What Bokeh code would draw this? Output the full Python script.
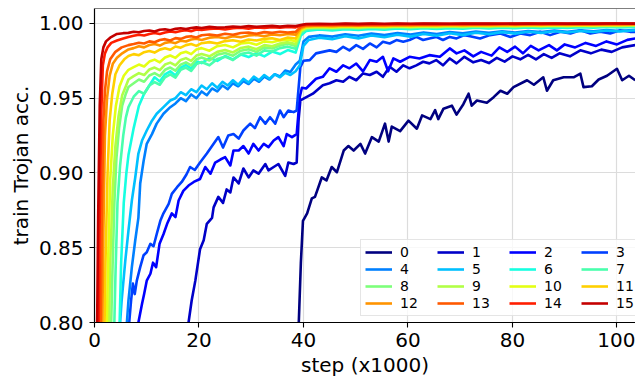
from bokeh.plotting import figure
from bokeh.models import Range1d, FixedTicker, PrintfTickFormatter, Legend, LegendItem, Span
from bokeh.embed import file_html
from bokeh.resources import INLINE

# ---------------------------------------------------------------- data
LABELS = [str(i) for i in range(16)]
X_TICKS = [0, 20, 40, 60, 80, 100]
Y_TICKS = [0.80, 0.85, 0.90, 0.95, 1.00]

# shared sample positions for the fast-learning runs (6..15)
HEAD_X = [6.5, 7.5, 8.5, 9.5, 10.5, 11.5, 12.5, 13.5, 14.5, 15.5, 16.5, 17.5, 18.5, 19.5,
          20.5, 22.0, 23.5, 25.0, 26.5, 28.0, 29.5, 31.0, 32.5, 34.0, 35.5, 37.0, 38.5]
TAIL_X = [39.5, 40.5, 43.0, 45.5, 48.0, 50.5, 53.0, 55.5, 58.0, 60.5, 63.0, 65.5, 68.0, 70.5,
          73.0, 75.5, 78.0, 80.5, 83.0, 85.5, 88.0, 90.5, 93.0, 95.5, 98.0, 100.5, 103.5]
# shared sample positions for runs 4 and 5
MID_X = [15.5, 16.5, 17.5, 18.5, 19.5, 20.5, 21.5, 22.5, 23.5, 24.5, 25.5, 26.5,
         27.5, 28.5, 29.5, 30.5, 31.5, 32.5, 33.5, 34.5, 35.5, 36.5, 37.5, 38.5]
JUMP45_X = [39.3, 40.0, 41.0]

# run 0
X0 = [38.9, 39.5, 39.9, 40.7, 41.6, 42.2, 43.5, 44.4, 45.4, 46.4, 47.7, 48.6, 49.6, 50.9,
      51.8, 53.1, 54.4, 55.6, 56.3, 56.9, 58.5, 60.1, 61.7, 62.7, 64.3, 65.2, 65.8, 66.8,
      68.4, 69.3, 70.6, 71.6, 72.2, 73.2, 75.1, 76.4, 77.7, 79.0, 80.2, 82.8, 84.1, 85.9,
      86.6, 87.8, 89.8, 91.7, 93.0, 93.6, 95.2, 96.5, 98.1, 100.0, 101.0, 102.3, 103.5]
Y0 = [0.780, 0.840, 0.868, 0.873, 0.883, 0.884, 0.897, 0.895, 0.904, 0.9005, 0.915, 0.918,
      0.915, 0.9195, 0.913, 0.924, 0.921, 0.933, 0.921, 0.931, 0.928, 0.935, 0.9296, 0.9385,
      0.936, 0.942, 0.936, 0.943, 0.945, 0.939, 0.946, 0.953, 0.945, 0.9485, 0.947, 0.9507,
      0.955, 0.953, 0.9574, 0.962, 0.959, 0.964, 0.955, 0.962, 0.964, 0.964, 0.9664, 0.9574,
      0.958, 0.9625, 0.965, 0.9697, 0.962, 0.965, 0.962]

# run 1
X1 = [17.8, 18.0, 18.6, 19.3, 20.2, 20.9, 21.5, 22.5, 22.8, 23.7, 24.6, 25.3, 26.0, 26.6,
      27.6, 28.5, 29.5, 30.4, 31.4, 32.7, 33.3, 34.3, 35.2, 36.5, 37.1, 38.1, 38.7, 39.05,
      39.4, 40.2, 41.8, 43.7, 45.0, 46.3, 47.6, 48.8, 50.1, 51.4, 52.7, 54.0, 55.2, 56.5,
      57.8, 59.1, 60.3, 61.6, 62.9, 64.1, 65.4, 66.7, 68.0, 69.3, 70.8, 72.5, 74.0, 75.5,
      77.0, 78.5, 80.0, 81.5, 83.0, 84.5, 86.0, 87.5, 89.0, 91.0, 93.0, 95.0, 97.0, 99.0,
      101.0, 103.5]
Y1 = [0.790, 0.800, 0.8147, 0.828, 0.849, 0.855, 0.866, 0.870, 0.877, 0.884, 0.880, 0.889,
      0.887, 0.897, 0.893, 0.903, 0.897, 0.9017, 0.8995, 0.906, 0.9017, 0.904, 0.906, 0.898,
      0.907, 0.906, 0.907, 0.935, 0.9485, 0.950, 0.953, 0.9587, 0.960, 0.962, 0.961, 0.9643,
      0.962, 0.9666, 0.9655, 0.9677, 0.9643, 0.971, 0.9677, 0.972, 0.970, 0.972, 0.9744,
      0.9733, 0.9755, 0.972, 0.9766, 0.9733, 0.9777, 0.974, 0.9755, 0.9735, 0.977, 0.9745,
      0.978, 0.976, 0.979, 0.976, 0.9795, 0.977, 0.980, 0.978, 0.982, 0.980, 0.9825, 0.981,
      0.984, 0.9855]

# run 2
X2 = [8.2, 8.4, 9.1, 9.5, 10.0, 10.7, 11.2, 11.8, 12.45, 13.2, 13.9, 14.8, 15.5, 16.1,
      17.0, 18.0, 19.0, 20.2, 21.2, 22.2, 23.1, 24.1, 25.0, 26.0, 26.6, 27.6, 28.5, 29.5,
      30.4, 31.4, 32.4, 33.3, 34.3, 35.2, 36.2, 36.8, 37.8, 38.7, 39.3, 39.7, 40.5, 42.4,
      43.7, 45.0, 46.3, 47.6, 48.8, 50.1, 51.4, 52.7, 54.0, 55.2, 56.2, 57.2, 58.5, 60.3,
      62.2, 64.1, 66.1, 68.0, 69.3, 70.8, 72.5, 74.0, 76.0, 77.5, 79.0, 80.5, 82.0, 83.5,
      85.0, 87.0, 88.5, 90.0, 92.0, 94.0, 96.0, 98.0, 100.0, 102.0, 103.5]
Y2 = [0.790, 0.800, 0.8125, 0.819, 0.828, 0.8326, 0.840, 0.837, 0.8526, 0.859, 0.866, 0.873,
      0.8705, 0.8816, 0.888, 0.8916, 0.894, 0.896, 0.904, 0.8995, 0.907, 0.909, 0.9106, 0.905,
      0.915, 0.915, 0.918, 0.913, 0.9195, 0.915, 0.9195, 0.9173, 0.9217, 0.924, 0.918, 0.926,
      0.924, 0.926, 0.951, 0.957, 0.9565, 0.963, 0.9643, 0.970, 0.9677, 0.972, 0.970, 0.9732,
      0.968, 0.9755, 0.9744, 0.9777, 0.968, 0.9766, 0.9744, 0.9777, 0.9766, 0.9788, 0.9777,
      0.9833, 0.980, 0.982, 0.978, 0.981, 0.9785, 0.984, 0.981, 0.9845, 0.980, 0.985, 0.982,
      0.9855, 0.982, 0.986, 0.984, 0.987, 0.985, 0.988, 0.986, 0.989, 0.990]

# run 3
X3 = [6.4, 7.0, 7.35, 7.7, 8.1, 8.75, 9.4, 10.0, 10.7, 11.3, 11.9, 12.6, 13.2, 14.2, 14.8,
      15.8, 16.7, 17.6, 18.3, 19.2, 20.2, 21.5, 22.8, 23.7, 24.6, 25.6, 26.6, 27.6, 28.5,
      29.8, 30.7, 31.7, 32.7, 33.6, 34.6, 35.5, 36.2, 37.1, 38.1, 38.7, 39.4, 40.0, 41.2,
      42.4, 43.7, 45.0, 46.3, 47.6, 48.8, 50.1, 51.4, 52.7, 54.0, 55.2, 56.5, 57.8, 59.1,
      60.3, 61.6, 62.9, 64.1, 65.4, 66.7, 68.0, 69.3, 70.8, 71.9, 73.8, 75.7, 77.7, 79.6,
      81.5, 83.4, 85.3, 87.2, 89.2, 91.1, 93.0, 94.9, 96.8, 98.7, 100.6, 102.5, 103.5]
Y3 = [0.790, 0.8147, 0.826, 0.819, 0.828, 0.837, 0.845, 0.847, 0.8526, 0.851, 0.859, 0.868,
      0.873, 0.8794, 0.886, 0.8905, 0.894, 0.899, 0.904, 0.902, 0.907, 0.913, 0.9195, 0.924,
      0.917, 0.925, 0.926, 0.923, 0.9284, 0.933, 0.930, 0.9373, 0.933, 0.9373, 0.933, 0.9418,
      0.9373, 0.9418, 0.9407, 0.9418, 0.9708, 0.975, 0.9755, 0.980, 0.981, 0.982, 0.981,
      0.9844, 0.982, 0.9855, 0.983, 0.9866, 0.984, 0.9878, 0.9866, 0.9889, 0.9878, 0.9889,
      0.991, 0.9889, 0.990, 0.991, 0.9889, 0.991, 0.990, 0.9922, 0.9915, 0.990, 0.9922,
      0.9933, 0.991, 0.9933, 0.9922, 0.9944, 0.9922, 0.9944, 0.9933, 0.9955, 0.9933, 0.9944,
      0.9933, 0.9955, 0.9944, 0.9944]

# run 4
X4_RISE = [6.0, 6.5, 7.15, 7.8, 8.4, 8.75, 9.4, 10.0, 11.0, 11.9, 13.2, 14.5]
Y4_RISE = [0.790, 0.8147, 0.837, 0.855, 0.870, 0.893, 0.908, 0.9195, 0.926, 0.933, 0.9396, 0.944]
Y4_MID = [0.9465, 0.950, 0.948, 0.9525, 0.950, 0.9545, 0.952, 0.9565, 0.9545, 0.9585, 0.956,
          0.960, 0.958, 0.9615, 0.9595, 0.963, 0.961, 0.9645, 0.9625, 0.966, 0.9645, 0.9685,
          0.9675, 0.9725]
Y4_JUMP = [0.975, 0.988, 0.991]
Y4_TAIL = [0.9920, 0.9912, 0.9928, 0.9918, 0.9932, 0.9922, 0.9936, 0.9926, 0.9940, 0.9930,
           0.9943, 0.9934, 0.9946, 0.9938, 0.9948, 0.9940, 0.9950, 0.9943, 0.9952, 0.9945,
           0.9954, 0.9947, 0.9956, 0.9949, 0.9957]

# run 5
X5_RISE = [4.7, 5.2, 5.9, 6.5, 7.15, 7.8, 8.4, 9.1, 10.0, 11.0, 11.9, 13.2, 14.5]
Y5_RISE = [0.790, 0.8147, 0.8415, 0.8615, 0.8816, 0.897, 0.913, 0.9217, 0.9284, 0.935,
           0.9396, 0.944, 0.9485]
Y5_MID = [0.950, 0.954, 0.952, 0.956, 0.954, 0.9585, 0.956, 0.960, 0.957, 0.961, 0.9585,
          0.962, 0.959, 0.963, 0.9605, 0.9645, 0.962, 0.9655, 0.963, 0.966, 0.964, 0.967,
          0.9655, 0.968]
Y5_JUMP = [0.972, 0.985, 0.989]
Y5_TAIL = [0.9905, 0.9895, 0.9915, 0.9900, 0.9920, 0.9908, 0.9925, 0.9912, 0.9930, 0.9918,
           0.9934, 0.9922, 0.9938, 0.9928, 0.9942, 0.9932, 0.9945, 0.9936, 0.9948, 0.9940,
           0.9950, 0.9943, 0.9953, 0.9946, 0.9955]

# runs 6..15: initial rise, then values on HEAD_X and TAIL_X
R6_X, R6_Y = [4.6, 5.1, 5.6, 6.1], [0.77, 0.84, 0.88, 0.90]
R7_X, R7_Y = [3.6, 4.0, 4.4, 4.9, 5.5, 6.0], [0.77, 0.83, 0.88, 0.905, 0.925, 0.937]
R8_X, R8_Y = [3.0, 3.4, 3.8, 4.2, 4.7, 5.3, 6.0], [0.77, 0.83, 0.88, 0.91, 0.93, 0.945, 0.953]
R9_X, R9_Y = [2.6, 3.0, 3.5, 4.0, 4.6, 5.3, 6.0], [0.77, 0.84, 0.89, 0.918, 0.938, 0.952, 0.958]
R10_X, R10_Y = [2.2, 2.6, 3.0, 3.5, 4.1, 4.8, 5.6], [0.77, 0.84, 0.895, 0.925, 0.945, 0.958, 0.965]
R11_X, R11_Y = [1.8, 2.1, 2.5, 2.9, 3.4, 4.0, 4.8, 5.7], [0.77, 0.84, 0.90, 0.935, 0.953, 0.966, 0.972, 0.976]
R12_X, R12_Y = [1.4, 1.7, 2.0, 2.4, 2.9, 3.5, 4.3, 5.3], [0.77, 0.86, 0.925, 0.950, 0.965, 0.973, 0.977, 0.980]
R13_X, R13_Y = [1.1, 1.4, 1.7, 2.0, 2.4, 3.0, 4.0, 5.2], [0.77, 0.87, 0.935, 0.955, 0.968, 0.976, 0.981, 0.984]
R14_X, R14_Y = [0.7, 1.0, 1.3, 1.6, 2.0, 2.5, 3.2, 4.3, 5.5], [0.76, 0.87, 0.94, 0.972, 0.980, 0.984, 0.987, 0.9886, 0.990]
R15_X, R15_Y = [0.4, 0.7, 1.0, 1.3, 1.7, 2.2, 3.0, 4.3, 5.5], [0.76, 0.87, 0.945, 0.976, 0.984, 0.988, 0.9905, 0.993, 0.9935]

H6 = [0.9120, 0.9300, 0.9450, 0.9530, 0.9585, 0.9640, 0.9612, 0.9660, 0.9680, 0.9652, 0.9705,
      0.9722, 0.9700, 0.9745, 0.9735, 0.9768, 0.9750, 0.9782, 0.9760, 0.9792, 0.9775, 0.9802,
      0.9780, 0.9812, 0.9795, 0.9822, 0.9805]
H7 = [0.9440, 0.9510, 0.9548, 0.9530, 0.9585, 0.9608, 0.9590, 0.9640, 0.9660, 0.9638, 0.9690,
      0.9705, 0.9682, 0.9728, 0.9742, 0.9720, 0.9762, 0.9778, 0.9755, 0.9795, 0.9806, 0.9785,
      0.9820, 0.9812, 0.9835, 0.9845, 0.9830]
H8 = [0.9575, 0.9600, 0.9625, 0.9610, 0.9652, 0.9668, 0.9648, 0.9690, 0.9705, 0.9684, 0.9725,
      0.9740, 0.9720, 0.9760, 0.9772, 0.9752, 0.9790, 0.9803, 0.9784, 0.9818, 0.9828, 0.9810,
      0.9840, 0.9832, 0.9853, 0.9864, 0.9850]
H9 = [0.9625, 0.9648, 0.9668, 0.9655, 0.9692, 0.9705, 0.9688, 0.9725, 0.9738, 0.9720, 0.9756,
      0.9768, 0.9750, 0.9785, 0.9796, 0.9780, 0.9810, 0.9822, 0.9806, 0.9836, 0.9845, 0.9828,
      0.9855, 0.9848, 0.9866, 0.9875, 0.9862]
H10 = [0.9690, 0.9708, 0.9725, 0.9712, 0.9745, 0.9758, 0.9740, 0.9772, 0.9786, 0.9770, 0.9800,
       0.9811, 0.9795, 0.9826, 0.9835, 0.9818, 0.9848, 0.9856, 0.9840, 0.9866, 0.9872, 0.9858,
       0.9880, 0.9874, 0.9887, 0.9892, 0.9881]
H11 = [0.9782, 0.9795, 0.9788, 0.9808, 0.9816, 0.9805, 0.9825, 0.9834, 0.9824, 0.9846, 0.9838,
       0.9855, 0.9862, 0.9850, 0.9868, 0.9875, 0.9866, 0.9882, 0.9888, 0.9877, 0.9893, 0.9886,
       0.9897, 0.9901, 0.9890, 0.9906, 0.9899]
H12 = [0.9826, 0.9835, 0.9848, 0.9840, 0.9856, 0.9862, 0.9852, 0.9870, 0.9876, 0.9868, 0.9885,
       0.9879, 0.9893, 0.9898, 0.9889, 0.9905, 0.9910, 0.9901, 0.9915, 0.9908, 0.9920, 0.9923,
       0.9914, 0.9926, 0.9921, 0.9930, 0.9925]
H13 = [0.9855, 0.9862, 0.9871, 0.9866, 0.9880, 0.9874, 0.9889, 0.9895, 0.9886, 0.9902, 0.9897,
       0.9910, 0.9915, 0.9906, 0.9921, 0.9926, 0.9919, 0.9931, 0.9925, 0.9936, 0.9939, 0.9931,
       0.9942, 0.9937, 0.9945, 0.9940, 0.9944]
H14 = [0.9910, 0.9918, 0.9925, 0.9919, 0.9930, 0.9936, 0.9929, 0.9940, 0.9946, 0.9941, 0.9950,
       0.9954, 0.9948, 0.9960, 0.9957, 0.9963, 0.9966, 0.9960, 0.9968, 0.9971, 0.9965, 0.9973,
       0.9970, 0.9975, 0.9972, 0.9977, 0.9974]
H15 = [0.9937, 0.9945, 0.9941, 0.9950, 0.9953, 0.9946, 0.9958, 0.9961, 0.9955, 0.9964, 0.9968,
       0.9962, 0.9970, 0.9974, 0.9969, 0.9977, 0.9972, 0.9975, 0.9980, 0.9976, 0.9982, 0.9978,
       0.9981, 0.9984, 0.9979, 0.9985, 0.9983]

T6 = [0.9920, 0.9950, 0.9960, 0.9954, 0.9962, 0.9957, 0.9964, 0.9959, 0.9966, 0.9961, 0.9968,
      0.9963, 0.9969, 0.9965, 0.9971, 0.9966, 0.9972, 0.9968, 0.9973, 0.9969, 0.9974, 0.9970,
      0.9975, 0.9972, 0.9976, 0.9973, 0.9977]
T7 = [0.9935, 0.9960, 0.9967, 0.9962, 0.9969, 0.9965, 0.9971, 0.9967, 0.9973, 0.9969, 0.9974,
      0.9970, 0.9976, 0.9972, 0.9977, 0.9973, 0.9978, 0.9975, 0.9979, 0.9976, 0.9980, 0.9977,
      0.9981, 0.9978, 0.9981, 0.9979, 0.9982]
T8 = [0.9945, 0.9966, 0.9972, 0.9968, 0.9974, 0.9970, 0.9976, 0.9972, 0.9978, 0.9974, 0.9979,
      0.9975, 0.9980, 0.9977, 0.9981, 0.9978, 0.9982, 0.9979, 0.9983, 0.9980, 0.9984, 0.9981,
      0.9985, 0.9982, 0.9985, 0.9983, 0.9986]
T9 = [0.9950, 0.9970, 0.9976, 0.9972, 0.9978, 0.9974, 0.9979, 0.9976, 0.9981, 0.9977, 0.9982,
      0.9979, 0.9983, 0.9980, 0.9984, 0.9981, 0.9985, 0.9982, 0.9986, 0.9983, 0.9986, 0.9984,
      0.9987, 0.9985, 0.9988, 0.9986, 0.9988]
T10 = [0.9955, 0.9974, 0.9979, 0.9975, 0.9980, 0.9977, 0.9982, 0.9979, 0.9983, 0.9980, 0.9984,
       0.9981, 0.9985, 0.9983, 0.9986, 0.9984, 0.9987, 0.9985, 0.9988, 0.9985, 0.9988, 0.9986,
       0.9989, 0.9987, 0.9990, 0.9988, 0.9990]
T11 = [0.9962, 0.9978, 0.9982, 0.9979, 0.9983, 0.9981, 0.9985, 0.9982, 0.9986, 0.9984, 0.9987,
       0.9985, 0.9988, 0.9986, 0.9989, 0.9987, 0.9989, 0.9988, 0.9990, 0.9988, 0.9991, 0.9989,
       0.9991, 0.9990, 0.9992, 0.9990, 0.9992]
T12 = [0.9970, 0.9982, 0.9986, 0.9983, 0.9987, 0.9985, 0.9988, 0.9986, 0.9989, 0.9987, 0.9990,
       0.9988, 0.9991, 0.9989, 0.9991, 0.9990, 0.9992, 0.9990, 0.9993, 0.9991, 0.9993, 0.9992,
       0.9994, 0.9992, 0.9994, 0.9993, 0.9995]
T13 = [0.9978, 0.9987, 0.9990, 0.9988, 0.9991, 0.9989, 0.9992, 0.9990, 0.9993, 0.9991, 0.9994,
       0.9992, 0.9994, 0.9993, 0.9995, 0.9993, 0.9995, 0.9994, 0.9996, 0.9994, 0.9996, 0.9995,
       0.9996, 0.9995, 0.9997, 0.9996, 0.9997]
T14 = [0.9986, 0.9993, 0.9995, 0.9993, 0.9996, 0.9994, 0.9997, 0.9995, 0.9997, 0.9996, 0.9998,
       0.9996, 0.9998, 0.9997, 0.9998, 0.9997, 0.9999, 0.9997, 0.9999, 0.9998, 0.9999, 0.9998,
       0.9999, 0.9998, 0.9999, 0.9999, 0.9998]
T15 = [0.9990, 0.9996, 0.9998, 0.9996, 0.9999, 0.9997, 0.9999, 0.9998, 1.0000, 0.9998, 0.9999,
       1.0000, 0.9998, 1.0000, 0.9999, 1.0000, 0.9998, 1.0000, 0.9999, 1.0000, 1.0000, 0.9999,
       1.0000, 0.9999, 1.0000, 1.0000, 0.9999]

# ---------------------------------------------------------------- assemble runs
runs = [
    (X0, Y0),
    (X1, Y1),
    (X2, Y2),
    (X3, Y3),
    (X4_RISE + MID_X + JUMP45_X + TAIL_X[2:], Y4_RISE + Y4_MID + Y4_JUMP + Y4_TAIL),
    (X5_RISE + MID_X + JUMP45_X + TAIL_X[2:], Y5_RISE + Y5_MID + Y5_JUMP + Y5_TAIL),
]
for rx, ry, h, t in [
    (R6_X, R6_Y, H6, T6), (R7_X, R7_Y, H7, T7), (R8_X, R8_Y, H8, T8),
    (R9_X, R9_Y, H9, T9), (R10_X, R10_Y, H10, T10), (R11_X, R11_Y, H11, T11),
    (R12_X, R12_Y, H12, T12), (R13_X, R13_Y, H13, T13), (R14_X, R14_Y, H14, T14),
    (R15_X, R15_Y, H15, T15),
]:
    runs.append((rx + HEAD_X + TAIL_X, ry + h + t))


def jet(v):
    """Piecewise-linear jet colour map."""
    segs = {
        "r": [(0, 0), (0.35, 0), (0.66, 1), (0.89, 1), (1, 0.5)],
        "g": [(0, 0), (0.125, 0), (0.375, 1), (0.64, 1), (0.91, 0), (1, 0)],
        "b": [(0, 0.5), (0.11, 1), (0.34, 1), (0.65, 0), (1, 0)],
    }

    def interp(pts):
        for (x0, y0), (x1, y1) in zip(pts, pts[1:]):
            if v <= x1:
                return y0 + (y1 - y0) * (v - x0) / (x1 - x0)
        return pts[-1][1]

    r, g, b = (round(255 * interp(segs[c])) for c in "rgb")
    return f"#{r:02x}{g:02x}{b:02x}"


COLORS = [jet(i * 16 / 255) for i in range(16)]
FONT = "DejaVu Sans"

# ---------------------------------------------------------------- figure
p = figure(width=635, height=379, output_backend="svg", toolbar_location=None,
           x_range=Range1d(0, 103.55), y_range=Range1d(0.80, 1.0100),
           min_border_left=94, min_border_right=0, min_border_top=8, min_border_bottom=57,
           background_fill_color="white", border_fill_color="white")
p.outline_line_color = None

for ax in (p.xaxis[0], p.yaxis[0]):
    ax.axis_line_color = "black"
    ax.axis_line_width = 1.2
    ax.major_tick_line_color = "black"
    ax.major_tick_line_width = 1.1
    ax.major_tick_out = 5
    ax.major_tick_in = 0
    ax.minor_tick_line_color = None
    ax.major_label_text_font = FONT
    ax.major_label_text_font_size = "20px"
    ax.major_label_text_color = "black"
    ax.axis_label_text_font = FONT
    ax.axis_label_text_font_size = "20px"
    ax.axis_label_text_font_style = "normal"
    ax.axis_label_text_color = "black"

p.xaxis.ticker = FixedTicker(ticks=X_TICKS)
p.yaxis.ticker = FixedTicker(ticks=Y_TICKS)
p.yaxis.formatter = PrintfTickFormatter(format="%.2f")
p.xaxis.axis_label = "step (x1000)"
p.yaxis.axis_label = "train Trojan acc."
p.xaxis.major_label_standoff = 5
p.xaxis.axis_label_standoff = 3
p.yaxis.major_label_standoff = 6
p.yaxis.axis_label_standoff = 3

p.grid.grid_line_color = "#dcdcdc"
p.grid.grid_line_width = 1.2

# top spine
p.add_layout(Span(location=1.0100, dimension="width", line_color="black", line_width=1.2))

renderers = []
for (xs, ys), col in zip(runs, COLORS):
    renderers.append(p.line(xs, ys, line_color=col, line_width=2.6, line_join="round"))

legend = Legend(
    items=[LegendItem(label=lab, renderers=[r]) for lab, r in zip(LABELS, renderers)],
    location=(266, 6), orientation="horizontal", ncols=4,
    glyph_width=27, glyph_height=14, label_standoff=8, label_width=36, label_height=14,
    spacing=1, padding=4, margin=0,
    label_text_font=FONT, label_text_font_size="14px", label_text_color="black",
    border_line_color="#cccccc", border_line_width=1,
    background_fill_color="white", background_fill_alpha=0.8,
)
p.add_layout(legend)

open("out.html", "w").write(file_html(p, INLINE))
